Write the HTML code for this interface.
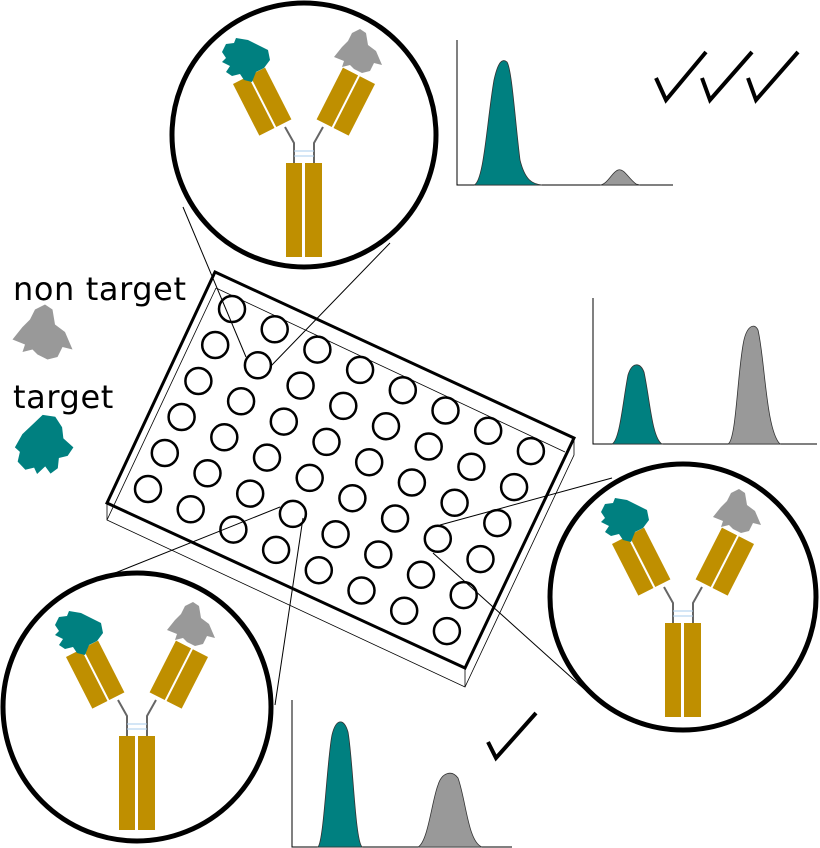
<!DOCTYPE html>
<html><head><meta charset="utf-8"><style>
html,body{margin:0;padding:0;background:#fff;}
svg{display:block;}
</style></head><body>
<svg width="820" height="848" viewBox="0 0 820 848" xmlns="http://www.w3.org/2000/svg">
<defs>
<path id="teal" d="M-24,-8 L-20,-16 L-12,-17 L-10,-22 L2,-20 L14,-14 L22,-10 L24,0 L18,8 L10,12 L6,22 L-2,20 L-6,14 L-14,16 L-20,12 L-16,6 L-24,2 L-20,-2 Z" fill="#008080"/>
<path id="gray" d="M-22,2 L-14,-8 L-8,-14 L-4,-22 L4,-26 L10,-22 L12,-10 L20,-4 L26,10 L18,8 L14,16 L6,18 L-2,14 L-6,10 L-14,12 L-12,6 Z" fill="#999999"/>
<g id="ab">
  <rect x="-18" y="28" width="16" height="94" fill="#bf8f00"/>
  <rect x="1" y="28" width="17" height="94" fill="#bf8f00"/>
  <polyline points="-10,28 -10,8 -19,-8" fill="none" stroke="#666" stroke-width="2"/>
  <polyline points="10,28 10,8 19,-8" fill="none" stroke="#666" stroke-width="2"/>
  <line x1="-10" y1="16" x2="10" y2="16" stroke="#aaccee" stroke-width="1"/>
  <line x1="-10" y1="21" x2="10" y2="21" stroke="#aaccee" stroke-width="1"/>
  <g transform="translate(-40,-32) rotate(-27)">
    <rect x="-19" y="-31" width="17" height="58" fill="#bf8f00"/>
    <rect x="0" y="-31" width="17" height="58" fill="#bf8f00"/>
  </g>
  <g transform="translate(40,-32) rotate(27)">
    <rect x="-17" y="-31" width="17" height="58" fill="#bf8f00"/>
    <rect x="2" y="-31" width="17" height="58" fill="#bf8f00"/>
  </g>
  <use href="#teal" transform="translate(-58,-75)"/>
  <use href="#gray" transform="translate(52,-80)"/>
</g>
</defs>

<g stroke="#000" stroke-width="1" fill="none">
  <line x1="183" y1="207" x2="246" y2="357"/>
  <line x1="390" y1="243" x2="270" y2="367"/>
  <line x1="105" y1="577" x2="280" y2="507"/>
  <line x1="275" y1="705" x2="303" y2="518"/>
  <line x1="440" y1="525" x2="612" y2="478"/>
  <line x1="433" y1="553" x2="602" y2="705"/>
</g>

<g fill="none" stroke="#000">
  <polygon points="107,503 107,520 465,687 574,455 574,438 465,668" stroke-width="0.8" fill="none"/>
  <line x1="216" y1="288" x2="107" y2="520" stroke-width="0.8"/>
  <line x1="216" y1="288" x2="565" y2="452" stroke-width="0.8"/>
  <line x1="465" y1="668" x2="465" y2="687" stroke-width="0.8"/>
  <polygon points="215,272 574,438 465,668 107,503" stroke-width="3"/>
</g>
<g fill="none" stroke="#000" stroke-width="2.5" id="wells">
</g>
<script>
(function(){
  var g=document.getElementById('wells'),ns='http://www.w3.org/2000/svg';
  for(var r=0;r<6;r++){for(var c=0;c<8;c++){
    var x=232-16.8*r+42.7*c, y=309+36*r+20.3*c;
    var e=document.createElementNS(ns,'circle');
    e.setAttribute('cx',x.toFixed(1));e.setAttribute('cy',y.toFixed(1));e.setAttribute('r','13');
    g.appendChild(e);}}
})();
</script>

<circle cx="304" cy="135" r="132" fill="#fff" stroke="#000" stroke-width="5"/>
<circle cx="137" cy="707" r="134" fill="#fff" stroke="#000" stroke-width="5"/>
<circle cx="683" cy="597" r="133" fill="#fff" stroke="#000" stroke-width="5"/>
<use href="#ab" transform="translate(304,135)"/>
<use href="#ab" transform="translate(137,708)"/>
<use href="#ab" transform="translate(683,595)"/>

<g stroke="#000" stroke-width="1" fill="none">
  <polyline points="457,40 457,185 673,185"/>
  <polyline points="593,298 593,444 817,444"/>
  <polyline points="292,700 292,847 512,847"/>
</g>
<g stroke="#333" stroke-width="0.8">
<path d="M474,185 C484,182 487,120 494,80 C498,62 502,58 507,62 C512,70 515,120 520,160 C525,180 532,184 542,185 Z" fill="#008080"/>
<path d="M600,185 C608,184 612,172 618,170 C624,168 628,178 636,184 L640,185 Z" fill="#999"/>
<path d="M612,444 C620,440 623,400 628,375 C632,362 640,362 644,372 C650,400 652,438 662,444 Z" fill="#008080"/>
<path d="M728,444 C736,440 737,380 743,345 C746,326 754,322 758,330 C765,360 766,430 780,444 Z" fill="#999"/>
<path d="M318,847 C324,840 327,760 332,735 C336,718 344,718 348,732 C353,760 355,840 362,847 Z" fill="#008080"/>
<path d="M418,847 C428,842 432,800 438,785 C442,772 452,770 458,778 C466,800 468,842 482,847 Z" fill="#999"/>
</g>

<g fill="none" stroke="#000" stroke-width="4" stroke-linejoin="miter">
  <polyline points="656,78 666,100 706,52"/>
  <polyline points="702,78 710,100 752,52"/>
  <polyline points="748,78 756,100 798,52"/>
  <polyline points="488,742 496,758 536,713"/>
</g>

<text x="13" y="300" font-family="'DejaVu Sans','Liberation Sans',sans-serif" font-size="32" letter-spacing="0.6" fill="#000">non target</text>
<text x="13" y="408" font-family="'DejaVu Sans','Liberation Sans',sans-serif" font-size="32" letter-spacing="0.6" fill="#000">target</text>
<use href="#gray" transform="translate(40,337) scale(1.25)"/>
<use href="#teal" transform="translate(45,445) rotate(-70) scale(1.25)"/>
</svg>
</body></html>
